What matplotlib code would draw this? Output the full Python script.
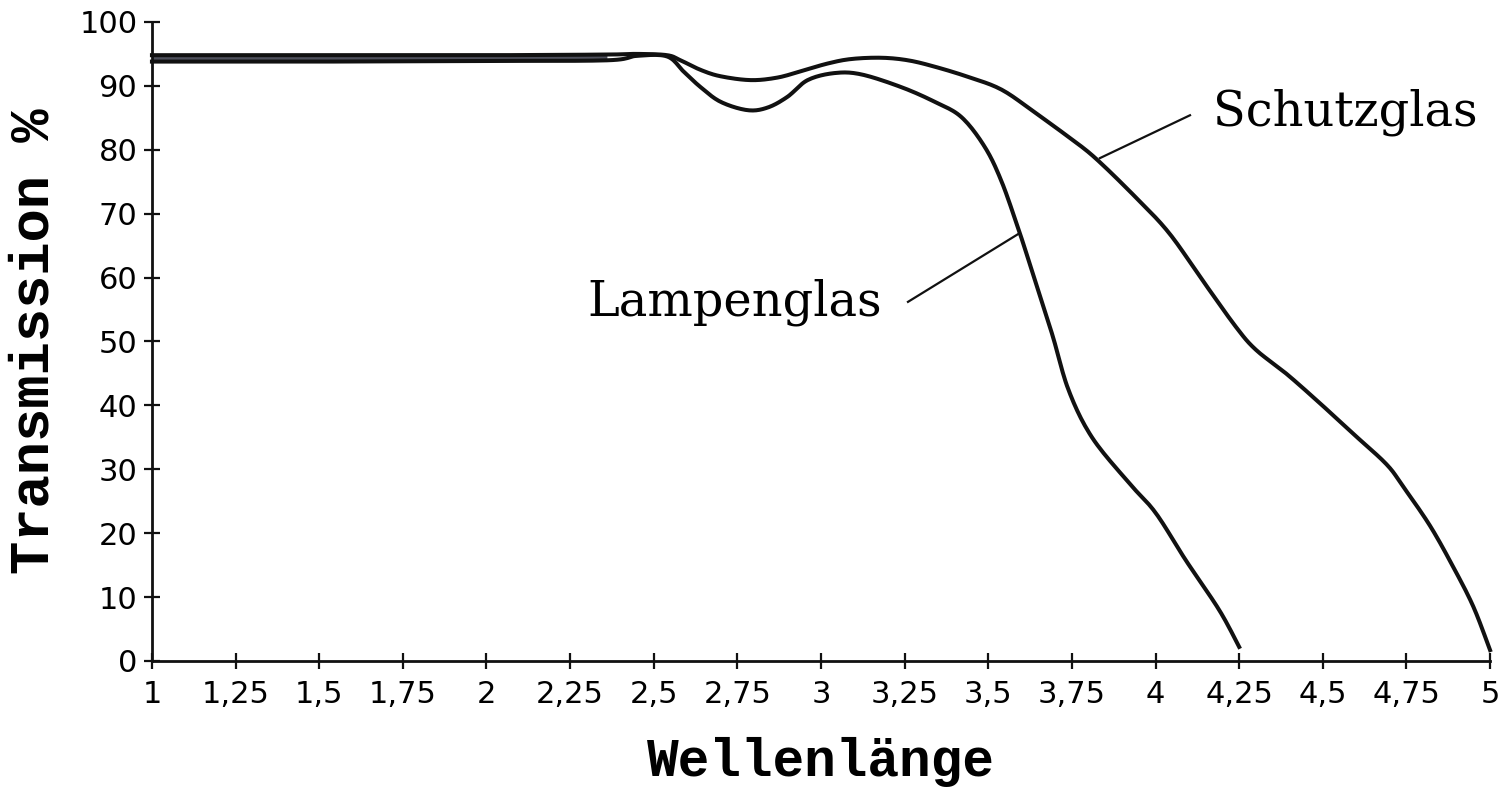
import matplotlib
matplotlib.use("Agg")
import matplotlib.pyplot as plt
import numpy as np

# Kurven (Wellenlänge, Transmission %)
schutz_x = [1.0, 1.5, 2.0, 2.36, 2.45, 2.54, 2.58, 2.64, 2.70, 2.79, 2.87,
            2.94, 3.02, 3.09, 3.18, 3.26, 3.34, 3.44, 3.54, 3.64, 3.74,
            3.82, 3.94, 4.04, 4.14, 4.24, 4.30, 4.39, 4.49, 4.59, 4.69,
            4.74, 4.82, 4.89, 4.95, 5.0]
schutz_y = [94.8, 94.8, 94.8, 94.9, 95.0, 94.8, 94.0, 92.5, 91.5, 90.9, 91.3,
            92.3, 93.5, 94.2, 94.4, 94.0, 93.0, 91.4, 89.4, 85.8, 82.0,
            78.7, 72.6, 67.0, 59.6, 52.3, 48.7, 45.0, 40.4, 35.6, 30.8,
            27.3, 21.2, 14.7, 8.5, 1.7]

lampe_x = [1.0, 1.5, 2.0, 2.36, 2.45, 2.54, 2.59, 2.64, 2.70, 2.78, 2.84,
           2.90, 2.96, 3.04, 3.12, 3.24, 3.34, 3.42, 3.49, 3.54, 3.59,
           3.62, 3.69, 3.74, 3.81, 3.92, 4.00, 4.09, 4.19, 4.25]
lampe_y = [93.8, 93.8, 93.9, 94.0, 94.7, 94.6, 92.2, 89.8, 87.5, 86.2, 86.6,
           88.3, 90.9, 92.0, 91.8, 89.8, 87.5, 85.1, 80.4, 75.0, 67.6,
           62.8, 51.3, 42.4, 35.0, 27.9, 23.2, 15.8, 8.0, 2.2]

x_ticks = [1, 1.25, 1.5, 1.75, 2, 2.25, 2.5, 2.75, 3, 3.25, 3.5, 3.75, 4,
           4.25, 4.5, 4.75, 5]
x_ticklabels = ['1', '1,25', '1,5', '1,75', '2', '2,25', '2,5', '2,75', '3',
                '3,25', '3,5', '3,75', '4', '4,25', '4,5', '4,75', '5']
y_ticks = [0, 10, 20, 30, 40, 50, 60, 70, 80, 90, 100]


# geglättete Linie durch die Punkte (Catmull-Rom), nur fürs Zeichnen
def glatt(x, y, n=12):
    p = np.column_stack([x, y]).astype(float)
    p = np.vstack([p[0], p, p[-1]])
    out = []
    for i in range(1, len(p) - 2):
        p0, p1, p2, p3 = p[i - 1], p[i], p[i + 1], p[i + 2]
        for t in np.linspace(0, 1, n, endpoint=False):
            out.append(0.5 * (2 * p1 + (-p0 + p2) * t
                              + (2 * p0 - 5 * p1 + 4 * p2 - p3) * t ** 2
                              + (-p0 + 3 * p1 - 3 * p2 + p3) * t ** 3))
    out.append(p[-2])
    out = np.array(out)
    return out[:, 0], out[:, 1]


fig = plt.figure(figsize=(15.03, 7.90), dpi=100)
ax = fig.add_axes([0.1011, 0.1633, 0.8903, 0.8089])

# grauer Streifen zwischen den beiden Kurven im flachen Bereich
xs = np.linspace(1.0, 2.36, 50)
ax.fill_between(xs, np.interp(xs, lampe_x, lampe_y), np.interp(xs, schutz_x, schutz_y),
                color='#4e505c', lw=0)

sx, sy = glatt(schutz_x, schutz_y)
lx, ly = glatt(lampe_x, lampe_y)
ax.plot(sx, sy, color='#111111', lw=2.9, solid_joinstyle='round', clip_on=False)
ax.plot(lx, ly, color='#111111', lw=2.9, solid_joinstyle='round', clip_on=False)

ax.set_xlim(1, 5)
ax.set_ylim(0, 100)

for s in ['top', 'right']:
    ax.spines[s].set_visible(False)
for s in ['left', 'bottom']:
    ax.spines[s].set_linewidth(2)
    ax.spines[s].set_color('#111111')

ax.set_xticks(x_ticks)
ax.set_xticklabels(x_ticklabels)
ax.set_yticks(y_ticks)
ax.tick_params(direction='inout', length=11, width=1.6, color='#111111',
               labelsize=22, pad=5)
ax.tick_params(axis='x', pad=8)

ax.set_xlabel('Wellenlänge', family='Liberation Mono', weight='bold', fontsize=38,
              va='center')
ax.xaxis.set_label_coords(0.5, -0.158)
ax.set_ylabel('Transmission %', family='Liberation Mono', weight='bold', fontsize=40,
              va='center')
ax.yaxis.set_label_coords(-0.088, 0.5)

# Beschriftungen mit Hinweislinien
ax.plot([3.834, 4.103], [78.7, 85.4], color='#111111', lw=1.6)
ax.text(4.172, 85.8, 'Schutzglas', family='DejaVu Serif', fontsize=34.5,
        ha='left', va='center')
ax.plot([3.260, 3.589], [56.2, 66.8], color='#111111', lw=1.6)
ax.text(2.303, 56.2, 'Lampenglas', family='DejaVu Serif', fontsize=34.5,
        ha='left', va='center')

fig.savefig('out.png', dpi=100)
